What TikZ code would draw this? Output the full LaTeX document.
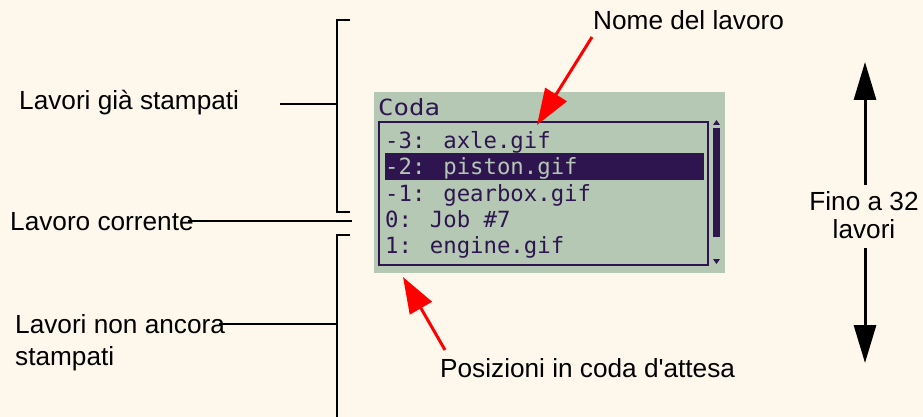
\documentclass[tikz,border=0pt]{standalone}
\usepackage{fontspec}
\setmainfont{Liberation Sans}[Ligatures=TeXOff]
\newfontfamily\lcdfont{DejaVu Sans Mono}[Ligatures=TeXOff]
\usetikzlibrary{arrows.meta}
\definecolor{bg}{HTML}{FEF7EC}
\definecolor{lcdbg}{HTML}{B5C8B4}
\definecolor{lcdfg}{HTML}{2E1550}
\begin{document}
\begin{tikzpicture}[x=1pt,y=-1pt,
  lbl/.style={font=\fontsize{26.2}{30}\selectfont, inner sep=0, anchor=base west, text=black},
  lcdtxt/.style={font=\lcdfont\fontsize{22.3}{22}\selectfont, inner sep=0, anchor=base west, text=lcdfg},
  blk/.style={draw=black, line width=2pt},
  redarr/.style={draw=red, line width=3pt, -{Triangle[length=36pt,width=25pt]}},
  blkarr/.style={draw=black, line width=3pt, -{Triangle[length=38pt,width=22pt]}}]
\fill[bg] (0,0) rectangle (923,417);
\useasboundingbox (0,0) rectangle (923,417);
% LCD panel
\node[fill=lcdbg, minimum width=351pt, minimum height=181pt, inner sep=0, anchor=north west] (panel) at (374,92) {};
\draw[lcdfg, line width=2pt] (379,122) rectangle (708,265);
\fill[lcdfg] (385,153) rectangle (704,180);
\fill[lcdfg] (713,128) rectangle (720,237);
\fill[lcdfg] (716.5,120) -- (713,125) -- (720,125) -- cycle;
\fill[lcdfg] (713,259) -- (720,259) -- (716.5,264) -- cycle;
\node[lcdtxt] (coda) at (378,116) {\scalebox{1.15}[1]{Coda}};
\node[lcdtxt] (r1) at (385,148) {-3: axle.gif};
\node[lcdtxt, text=lcdbg] (r2) at (385,174.5) {-2: piston.gif};
\node[lcdtxt] (r3) at (385,201) {-1: gearbox.gif};
\node[lcdtxt] (r4) at (385,227) {0: Job \#7};
\node[lcdtxt] (r5) at (385,253) {1: engine.gif};
% left labels
\node[lbl] (gia) at (19,110) {Lavori già stampati};
\node[lbl] (cor) at (10,230) {Lavoro corrente};
\node[lbl] (non1) at (15,333) {Lavori non ancora};
\node[lbl] (non2) at (15,365) {stampati};
% brackets
\coordinate (ut) at (350,20);
\coordinate (utc) at (337,20);
\coordinate (ubc) at (337,212);
\coordinate (ub) at (350,212);
\draw[blk] (ut) -- (utc) -- (ubc) -- (ub);
\coordinate (giastart) at (280,104);
\coordinate (giabr) at (337,104);
\draw[blk] (giastart) -- (giabr);
\coordinate (corend) at (352,222);
\draw[blk] ([xshift=-6pt]cor.east) -- (cor.east -| corend);
\coordinate (lt) at (350,235);
\coordinate (ltc) at (337,235);
\coordinate (lbc) at (337,418);
\draw[blk] (lt) -- (ltc) -- (lbc);
\coordinate (nonbr) at (337,326);
\draw[blk] ([xshift=-6pt]non1.east) -- (non1.east -| nonbr);
% right arrows
\node[lbl, anchor=base] (fino1) at (864,210) {Fino a 32};
\node[lbl, anchor=base] (fino2) at (864,238) {lavori};
\coordinate (ua0) at (865,185);
\coordinate (ua1) at (865,62);
\coordinate (da0) at (865,248);
\coordinate (da1) at (865,363);
\draw[blkarr] (ua0) -- (ua1);
\draw[blkarr] (da0) -- (da1);
% red callouts
\node[lbl] (nome) at (593,30) {Nome del lavoro};
\coordinate (nomeA) at (592,37);
\coordinate (nomeT) at (537,125);
\draw[redarr] (nomeA) -- (nomeT);
\node[lbl] (pos) at (440,377) {Posizioni in coda d'attesa};
\coordinate (posA) at (445,350);
\coordinate (posT) at (403,277);
\draw[redarr] (posA) -- (posT);
\end{tikzpicture}
\end{document}
